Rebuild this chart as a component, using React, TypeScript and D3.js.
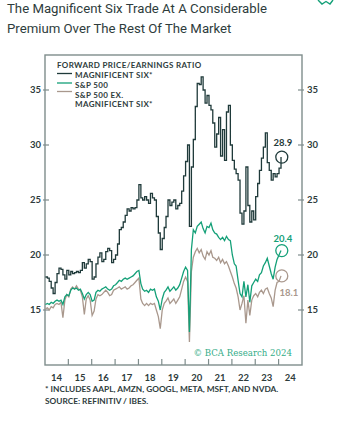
import { useMemo } from "react";
import * as d3 from "d3";

const W = 352;
const H = 426;
const PLOT = { left: 45, right: 302, top: 55, bottom: 365 };

// monthly readings, Jan 2014 .. Feb 2024
const START_YEAR = 2014;
const magSix = [
  18.0, 17.9, 17.6, 17.0, 16.5, 17.5, 18.3, 18.8, 18.7, 18.2, 17.8, 18.6,
  18.2, 18.5, 18.3, 18.4, 18.5, 18.4, 18.6, 19.3, 18.8, 19.2, 19.6, 19.4,
  17.8, 18.0, 19.2, 19.8, 20.2, 19.4, 19.6, 20.3, 20.6, 20.4, 19.3, 19.6,
  20.0, 21.0, 22.3, 22.5, 23.0, 23.6, 24.2, 24.0, 24.3, 24.2, 24.3, 25.0,
  26.4, 25.2, 25.0, 25.3, 25.0, 24.7, 25.6, 25.2, 25.0, 23.5, 22.0, 20.5,
  21.5, 22.5, 23.5, 25.0, 24.5, 24.8, 25.0, 24.2, 24.5, 24.7, 25.8, 27.2,
  28.5, 30.0, 22.6, 28.0, 30.5, 33.5, 35.6, 35.5, 36.2, 35.0, 33.8, 34.5,
  33.6, 33.2, 32.0, 29.8, 31.0, 32.5, 29.0, 31.4, 28.6, 33.0, 33.6, 30.0,
  28.6, 27.8, 27.4, 26.8, 23.8, 22.8, 24.0, 28.0, 24.5, 23.0, 24.0, 23.2,
  25.3, 26.5, 27.7, 28.8, 29.8, 31.1, 28.4, 27.7, 26.8, 27.4, 27.1, 27.4,
  27.9, 28.9,
];
const sp500 = [
  15.5, 15.6, 15.5, 15.7, 15.6, 15.8, 15.9, 15.8, 15.9, 15.5, 16.2, 16.4,
  16.3, 16.8, 17.0, 16.9, 17.0, 16.8, 16.9, 16.5, 16.0, 16.4, 16.6, 16.4,
  15.8, 15.9, 16.6, 16.8, 16.7, 16.9, 17.0, 17.1, 16.9, 16.8, 16.9, 17.2,
  17.3, 17.5, 17.7, 17.6, 17.8, 17.9, 17.8, 17.9, 18.0, 18.1, 18.3, 18.5,
  18.6, 17.4, 16.9, 16.7, 16.8, 16.6, 16.9, 16.8, 16.9, 16.2, 15.8, 15.0,
  16.0, 16.6, 16.8, 17.1, 16.7, 16.9, 17.1, 16.8, 17.0, 17.3, 17.9, 18.5,
  18.9, 18.6, 13.0, 20.5, 22.3, 22.0, 22.6, 22.8, 23.0, 22.4, 22.0, 22.6,
  22.5, 22.9, 22.3, 22.0, 21.9, 21.6, 21.4, 21.6, 21.3, 21.7, 21.4, 21.3,
  20.0, 19.2, 19.0, 17.7, 16.5, 16.2, 17.6, 16.2, 17.3, 15.7, 17.2, 17.5,
  17.8, 17.6, 18.2, 18.4, 19.0, 19.3, 19.7, 19.0, 18.3, 17.8, 18.9, 19.6,
  20.0, 20.4,
];
const spExMagSix = [
  15.1, 15.2, 15.0, 15.3, 15.2, 15.5, 15.6, 15.5, 15.7, 14.3, 15.9, 16.4,
  16.2, 16.9, 17.1, 16.9, 17.2, 16.9, 16.8, 16.2, 14.6, 16.0, 16.3, 15.9,
  14.5, 14.9, 16.0, 16.4, 16.3, 16.4, 16.6, 16.8, 16.6, 16.3, 16.4, 16.8,
  16.9, 17.0, 17.1, 16.9, 17.0, 17.1, 16.9, 17.0, 17.2, 17.3, 17.5, 17.7,
  17.9, 16.0, 15.6, 15.4, 15.6, 15.4, 15.6, 15.5, 15.6, 15.0, 14.4, 13.3,
  15.0, 15.6, 15.8, 16.1, 15.6, 15.8, 16.0, 15.6, 15.9, 16.2, 16.9, 17.6,
  18.0, 17.6, 12.1, 18.5, 19.8, 20.3, 20.6, 20.2, 20.5, 19.9, 19.6, 20.3,
  20.0, 20.4, 19.8, 19.7, 19.5, 19.8, 19.3, 19.6, 19.2, 19.4, 19.0, 18.5,
  18.0, 17.4, 17.0, 16.2, 15.0, 15.6, 16.3, 13.8, 15.9, 14.5, 15.9, 16.3,
  16.5, 16.2, 16.6, 16.8, 16.5, 16.9, 17.0, 16.5, 16.1, 15.3, 16.8, 17.5,
  17.6, 18.1,
];

const yTicks = [15, 20, 25, 30, 35];
const yearLabels = ["14", "15", "16", "17", "18", "19", "20", "21", "22", "23", "24"];

const DARK = "#1f3a3a";
const GREEN = "#14a078";
const TAUPE = "#a9988d";
const AXIS = "#7f8d8c";
const TEXT = "#2e3c3c";
const FONT = "Lato, 'Open Sans', sans-serif";

type Pt = { date: Date; v: number };
const toPoints = (vals: number[]): Pt[] =>
  vals.map((v, i) => ({ date: new Date(START_YEAR, i, 8), v }));

export default function App() {
  const x = d3
    .scaleTime()
    .domain([new Date(2014, 0, 1), new Date(2025, 0, 1)])
    .range([PLOT.left, PLOT.right]);
  const y = d3.scaleLinear().domain([35, 15]).range([90, 310]);

  const series = useMemo(
    () => [
      { key: "ex", pts: toPoints(spExMagSix), color: TAUPE, curve: d3.curveLinear },
      { key: "sp", pts: toPoints(sp500), color: GREEN, curve: d3.curveLinear },
      { key: "m6", pts: toPoints(magSix), color: DARK, curve: d3.curveStepAfter },
    ],
    []
  );

  const endLabels = [
    { vals: magSix, color: DARK, dx: 1, dy: -11 },
    { vals: sp500, color: GREEN, dx: 1, dy: -9 },
    { vals: spExMagSix, color: TAUPE, dx: 7, dy: 20 },
  ];

  const yearStarts = d3.range(2015, 2025).map((yr) => new Date(yr, 0, 1));

  return (
    <svg width={W} height={H} style={{ position: "absolute", left: 0, top: 0 }}>
      <rect width={W} height={H} fill="#fff" />
      <text x={7} y={13} fontFamily="Roboto, sans-serif" fontSize={13.2} fill={TEXT}>
        The Magnificent Six Trade At A Considerable
      </text>
      <text x={7} y={33} fontFamily="Roboto, sans-serif" fontSize={13.2} fill={TEXT}>
        Premium Over The Rest Of The Market
      </text>
      <path d="M318,0 L322,4 L326,1.5 L330,4 L333,0" fill="none" stroke={GREEN} strokeWidth={1.4} />

      <rect
        x={PLOT.left}
        y={PLOT.top}
        width={PLOT.right - PLOT.left}
        height={PLOT.bottom - PLOT.top}
        fill="none"
        stroke={AXIS}
        strokeWidth={1.4}
      />

      {yTicks.map((t) => (
        <g key={t} fontFamily={FONT} fontSize={9.5} fontWeight={700} fill={TEXT}>
          <line x1={PLOT.left - 2} x2={PLOT.left + 4} y1={y(t)} y2={y(t)} stroke={AXIS} strokeWidth={1.2} />
          <line x1={PLOT.right - 4} x2={PLOT.right + 2} y1={y(t)} y2={y(t)} stroke={AXIS} strokeWidth={1.2} />
          <text x={PLOT.left - 4} y={y(t)} dy="0.35em" textAnchor="end">{t}</text>
          <text x={PLOT.right + 5} y={y(t)} dy="0.35em">{t}</text>
        </g>
      ))}

      {yearStarts.map((d) => (
        <line key={+d} x1={x(d)} x2={x(d)} y1={PLOT.bottom} y2={PLOT.bottom - 6} stroke={AXIS} strokeWidth={1.2} />
      ))}
      {yearLabels.map((lab, i) => (
        <text
          key={lab}
          x={x(new Date(START_YEAR + i, 6, 1))}
          y={381}
          textAnchor="middle"
          fontFamily={FONT}
          fontSize={9.5}
          fontWeight={700}
          fill={TEXT}
        >
          {lab}
        </text>
      ))}

      {series.map((s) => {
        const line = d3
          .line<Pt>()
          .x((d) => x(d.date))
          .y((d) => y(d.v))
          .curve(s.curve);
        return <path key={s.key} d={line(s.pts) || ""} fill="none" stroke={s.color} strokeWidth={1.3} />;
      })}

      {endLabels.map((e, i) => {
        const last = e.vals[e.vals.length - 1];
        const cx = x(new Date(START_YEAR, e.vals.length - 1, 20));
        const cy = y(last);
        return (
          <g key={i}>
            <circle cx={cx} cy={cy} r={6} fill="none" stroke={e.color} strokeWidth={1.3} />
            <text
              x={cx + e.dx}
              y={cy + e.dy}
              textAnchor="middle"
              fontFamily={FONT}
              fontSize={9.5}
              fontWeight={700}
              fill={e.color}
            >
              {last.toFixed(1)}
            </text>
          </g>
        );
      })}

      <g fontFamily={FONT} fontWeight={700} fill={TEXT} fontSize={8} letterSpacing={0.35}>
        <text x={57} y={68}>FORWARD PRICE/EARNINGS RATIO</text>
        <line x1={57} x2={72} y1={73.5} y2={73.5} stroke={DARK} strokeWidth={1.3} />
        <text x={75} y={78}>MAGNIFICENT SIX*</text>
        <line x1={57} x2={72} y1={83} y2={83} stroke={GREEN} strokeWidth={1.3} />
        <text x={75} y={87.8}>S&amp;P 500</text>
        <line x1={57} x2={72} y1={91.5} y2={91.5} stroke={TAUPE} strokeWidth={1.3} />
        <text x={75} y={97.6}>S&amp;P 500 EX.</text>
        <text x={75} y={107.4}>MAGNIFICENT SIX*</text>
      </g>

      <text x={292} y={356} textAnchor="end" fontFamily="'DejaVu Serif', 'Liberation Serif', serif" fontSize={8.6} fill="#34ad88">
        © BCA Research 2024
      </text>

      <g fontFamily={FONT} fontWeight={700} fill={TEXT} fontSize={8.3}>
        <text x={45} y={392}>* INCLUDES AAPL, AMZN, GOOGL, META, MSFT, AND NVDA.</text>
        <text x={45} y={403.5}>SOURCE: REFINITIV / IBES.</text>
      </g>
    </svg>
  );
}
